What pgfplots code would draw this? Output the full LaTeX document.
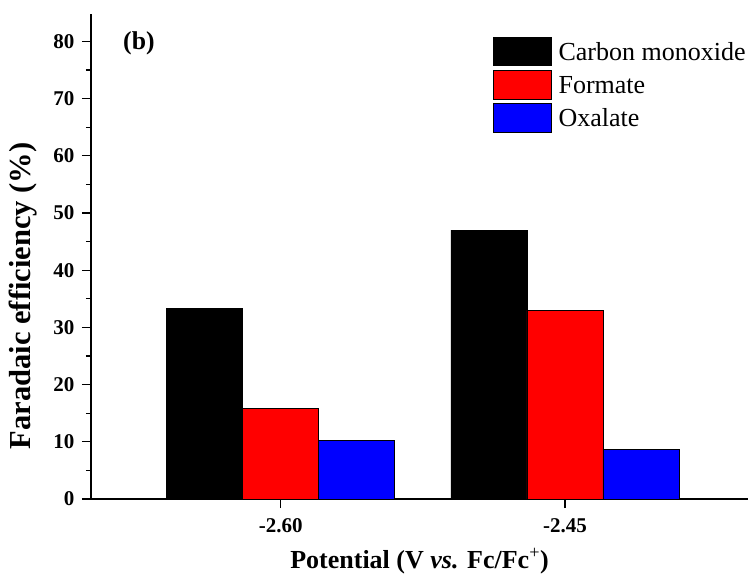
\documentclass[border=0pt]{standalone}
\usepackage{fontspec}
\setmainfont{Liberation Serif}
\usepackage{pgfplots}
\pgfplotsset{compat=1.18}

\begin{document}
\begin{tikzpicture}
% fix the page to the reference's 748 x 584 (axis corner at 91,499 px)
\useasboundingbox (-91pt,-85pt) rectangle (657pt,499pt);
\begin{axis}[
  at={(0pt,0pt)}, anchor=south west,
  width=657pt, height=485pt,
  scale only axis,
  ybar=0pt,
  bar width=76pt,
  xmin=-0.667, xmax=1.6437,
  ymin=0, ymax=84.8,
  xtick={0,1},
  xticklabels={-2.60,-2.45},
  ytick={0,10,...,80},
  minor y tick num=1,
  axis x line*=bottom,
  axis y line*=left,
  axis line style={line width=1.3pt},
  tick align=outside,
  major tick length=9pt,
  minor tick length=5pt,
  tick style={line width=1.2pt, black},
  /pgf/number format/assume math mode=true,
  tick label style={font=\fontsize{21}{25}\selectfont\bfseries},
  yticklabel style={xshift=-4pt},
  xticklabel style={yshift=-7pt},
  xlabel={Potential (V \textit{vs.} Fc/Fc\textsuperscript{\mdseries+})},
  xlabel style={font=\fontsize{26}{30}\selectfont\bfseries,
    at={(axis description cs:0.5,0)}, anchor=base, yshift=-69pt},
  ylabel={Faradaic efficiency (\%)},
  ylabel style={font=\fontsize{30.5}{34}\selectfont\bfseries,
    at={(axis description cs:-0.0928,0.419)}, anchor=base},
  legend image code/.code={\draw[#1, line width=1pt] (0pt,-5.6pt) rectangle (58pt,23pt);},
  legend style={draw=none, fill=none, inner sep=0pt, row sep=3.7pt, column sep=6.7pt,
    nodes={inner sep=0pt, anchor=base west},
    font=\fontsize{26}{30}\selectfont,
    at={(axis description cs:0.6114,0.9532)}, anchor=north west},
  legend cell align=left,
]
\addplot[fill=black, draw=black, line width=0.9pt] coordinates {(0,33.3) (1,47.0)};
\addplot[fill=red, draw=black, line width=0.9pt] coordinates {(0,15.8) (1,33.0)};
\addplot[fill=blue, draw=black, line width=0.9pt] coordinates {(0,10.2) (1,8.7)};
\legend{Carbon monoxide, Formate, Oxalate}
\node[anchor=base west, font=\fontsize{25.7}{30}\selectfont\bfseries, inner sep=0pt]
  at (axis description cs:0.0487,0.9258) {(b)};
\end{axis}
\end{tikzpicture}
\end{document}
